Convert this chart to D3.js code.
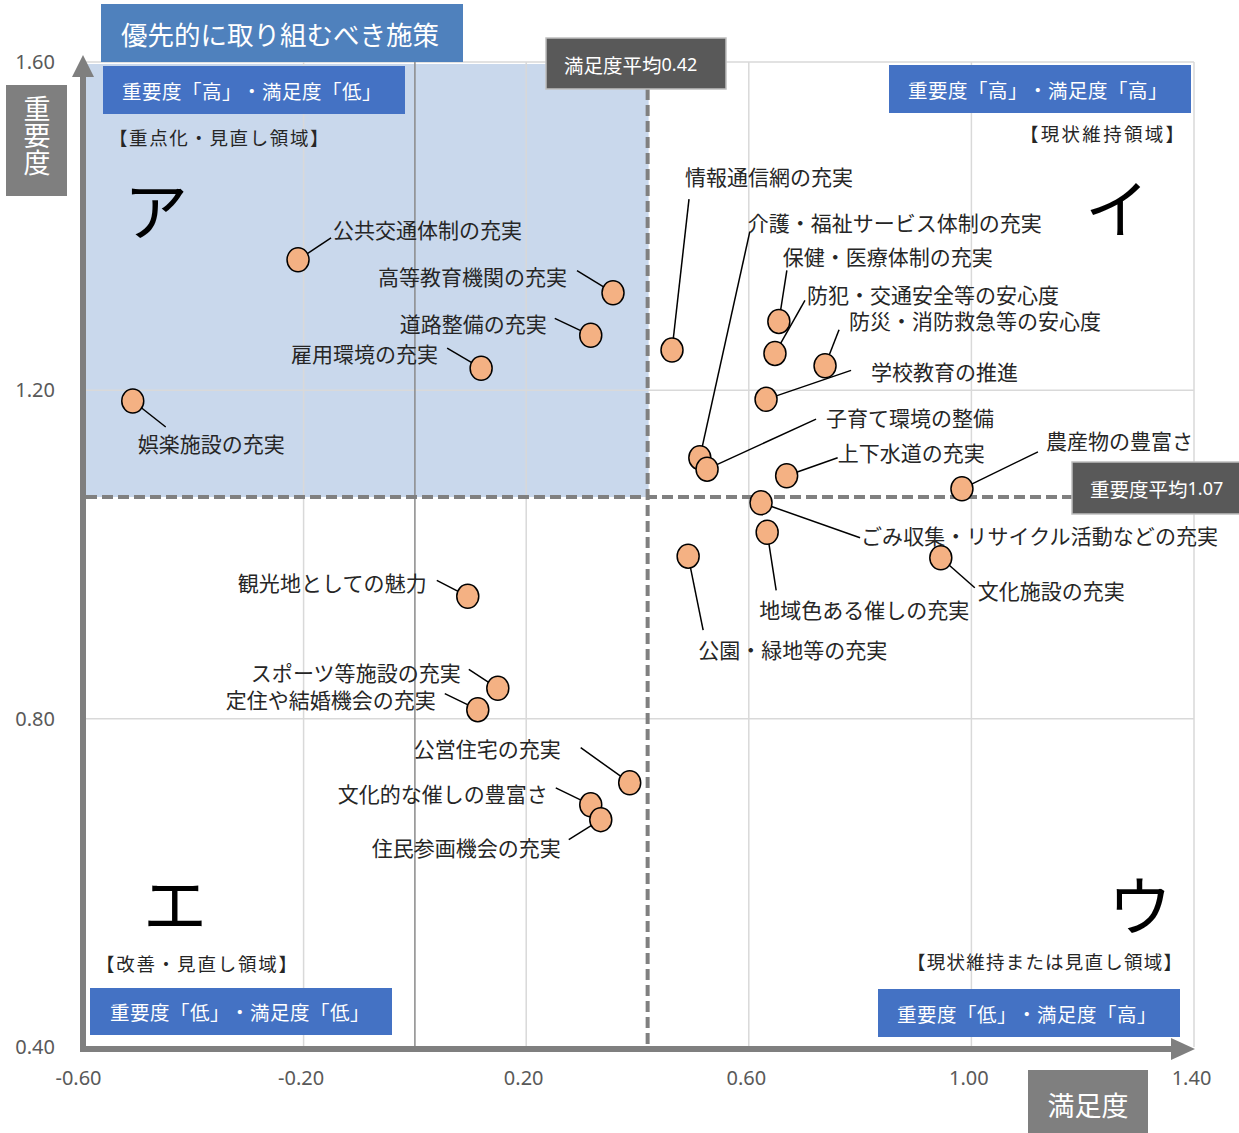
<!DOCTYPE html>
<html><head><meta charset="utf-8">
<script src="https://cdn.jsdelivr.net/npm/d3@7"></script>
<style>
html,body{margin:0;padding:0;background:#fff;}
svg{display:block;font-family:"Noto Sans CJK JP","Noto Sans",sans-serif;}
svg text{text-spacing-trim:space-all;font-feature-settings:"chws" 0,"halt" 0,"palt" 0;}
</style></head>
<body><svg id="chart" width="1239" height="1133"></svg>
<script>
// ---- data ----
const items = ["公共交通体制の充実","高等教育機関の充実","道路整備の充実","雇用環境の充実","娯楽施設の充実",
 "情報通信網の充実","介護・福祉サービス体制の充実","保健・医療体制の充実","防犯・交通安全等の安心度","防災・消防救急等の安心度",
 "学校教育の推進","子育て環境の整備","上下水道の充実","農産物の豊富さ","ごみ収集・リサイクル活動などの充実",
 "地域色ある催しの充実","文化施設の充実","公園・緑地等の充実","観光地としての魅力","スポーツ等施設の充実",
 "定住や結婚機会の充実","公営住宅の充実","文化的な催しの豊富さ","住民参画機会の充実"];
const satisfaction = [-0.210,0.356,0.316,0.119,-0.507, 0.462,0.512,0.654,0.647,0.737,
 0.631,0.525,0.668,0.983,0.622, 0.633,0.945,0.491,0.095,0.149, 0.113,0.386,0.316,0.334];
const importance = [1.359,1.319,1.267,1.227,1.187, 1.249,1.118,1.284,1.245,1.230,
 1.189,1.104,1.096,1.080,1.063, 1.027,0.996,0.998,0.949,0.837, 0.811,0.722,0.695,0.677];
const xTicks = [-0.6,-0.2,0.2,0.6,1.0,1.4];
const yTicks = [0.4,0.8,1.2,1.6];
const avgSatisfaction = 0.42;
const avgImportance = 1.07;
const xTitle = "満足度", yTitle = "重要度";
const mainTitle = "優先的に取り組むべき施策";

// ---- layout (label placement offsets from point, px) ----
// [text dx, text dy, anchor, leader dx, leader dy]
const labelLayout = [
 [35,-31,"start",33,-22],[-46,-17,"end",-36,-22],[-44,-12,"end",-36,-17],[-43,-15,"end",-34,-20],[5,42,"start",33,26],
 [13,-174,"start",17,-151],[48,-236,"start",50,-226],[4,-65,"start",8,-51],[32,-59,"start",30,-53],[24,-46,"start",14,-36],
 [105,-28,"start",85,-29],[119,-52,"start",109,-50],[51,-24,"start",51,-18],[84,-49,"start",76,-37],[100,32,"start",99,35],
 [-8,77,"start",9,58],[37,32,"start",34,30],[10,93,"start",15,74],[-41,-14,"end",-31,-16],[-37,-16,"end",-29,-19],
 [-42,-11,"end",-33,-16],[-69,-35,"end",-49,-35],[-43,-12,"end",-35,-17],[-40,27,"end",-32,20]
];

const svg = d3.select("#chart");
const x = d3.scaleLinear().domain([-0.6,1.4]).range([81,1194]);
const y = d3.scaleLinear().domain([0.4,1.6]).range([1047,62]);
const axisGray = "#7f7f7f";
// full-width text: force each glyph to one em
const fw = (sel, fs, extra=0) => sel.attr("textLength", d => (typeof d === "string" ? d : (d.name || d[0])).length * fs + extra)
  .attr("lengthAdjust","spacing");

// priority quadrant fill
svg.append("rect").attr("x", x(-0.6)+5).attr("y", y(1.6)+2)
  .attr("width", x(avgSatisfaction)-x(-0.6)-5).attr("height", y(avgImportance)-y(1.6)-2)
  .attr("fill","#c9d8ec");

// gridlines
const grid = svg.append("g");
grid.selectAll("line.v").data(xTicks.filter(d=>d>-0.6)).join("line")
  .attr("x1",d=>x(d)).attr("x2",d=>x(d)).attr("y1",y(1.6)).attr("y2",y(0.4))
  .attr("stroke","#d9d9d9").attr("stroke-width",1.5);
grid.selectAll("line.h").data(yTicks.filter(d=>d>0.4)).join("line")
  .attr("x1",x(-0.6)).attr("x2",x(1.4)).attr("y1",d=>y(d)).attr("y2",d=>y(d))
  .attr("stroke","#d9d9d9").attr("stroke-width",1.5);
// zero line
svg.append("line").attr("x1",x(0)).attr("x2",x(0)).attr("y1",y(1.6)).attr("y2",y(0.4))
  .attr("stroke","#8a8a8a").attr("stroke-width",1.5);

// average dashed lines
svg.append("line").attr("x1",x(avgSatisfaction)-1).attr("x2",x(avgSatisfaction)-1).attr("y1",89).attr("y2",y(0.4))
  .attr("stroke","#808080").attr("stroke-width",4).attr("stroke-dasharray","11,5");
svg.append("line").attr("x1",x(-0.6)+5).attr("x2",1072).attr("y1",y(avgImportance)).attr("y2",y(avgImportance))
  .attr("stroke","#808080").attr("stroke-width",4).attr("stroke-dasharray","11,5");

// axes with arrows
svg.append("line").attr("x1",x(-0.6)+2).attr("x2",x(-0.6)+2).attr("y1",y(0.4)+5).attr("y2",y(1.6)+14)
  .attr("stroke",axisGray).attr("stroke-width",6);
svg.append("path").attr("d",`M${x(-0.6)+2},${y(1.6)-7} L${x(-0.6)+13},${y(1.6)+15} L${x(-0.6)-9},${y(1.6)+15} Z`).attr("fill",axisGray);
svg.append("line").attr("x1",x(-0.6)-1).attr("x2",x(1.4)-22).attr("y1",y(0.4)+2).attr("y2",y(0.4)+2)
  .attr("stroke",axisGray).attr("stroke-width",6);
svg.append("path").attr("d",`M${x(1.4)+1},${y(0.4)+2} L${x(1.4)-23},${y(0.4)-9} L${x(1.4)-23},${y(0.4)+13} Z`).attr("fill",axisGray);

// tick labels via d3 axes
const fmt = d => d.toFixed(2);
const gx = svg.append("g").attr("transform",`translate(-3,${y(0.4)})`)
  .call(d3.axisBottom(x).tickValues(xTicks).tickSize(0).tickPadding(24).tickFormat(fmt));
const gy = svg.append("g").attr("transform",`translate(${x(-0.6)},0)`)
  .call(d3.axisLeft(y).tickValues(yTicks).tickSize(0).tickPadding(26).tickFormat(fmt));
[gx,gy].forEach(g=>{g.select(".domain").remove();
  g.selectAll("text").attr("fill","#595959").style("font-size","20px").style("font-family","'Noto Sans','Open Sans',sans-serif");});

// boxes helper
function box(x0,y0,w,h,fill,txt,fs,tx,opts={}){
  svg.append("rect").attr("x",x0).attr("y",y0).attr("width",w).attr("height",h).attr("fill",fill)
    .attr("stroke",opts.stroke||"none").attr("stroke-width",opts.sw||0);
  const t = svg.append("text").attr("x",tx).attr("y",y0+h/2).attr("dominant-baseline","central")
    .attr("fill","#fff").style("font-size",fs+"px");
  if (opts.parts){ opts.parts.forEach(p=>t.append("tspan").text(p[0]).style("font-size",p[1]+"px").style("font-family",p[2]||null)); }
  else { t.text(txt).attr("textLength", txt.length*fs + (opts.extra||0)).attr("lengthAdjust","spacing"); }
  return t;
}
box(101,4,362,58,"#4f81bd",mainTitle,26.5,121);
box(103,66,302,48,"#4472c4","重要度「高」・満足度「低」",19.5,122,{extra:6});
box(889,65,302,48,"#4472c4","重要度「高」・満足度「高」",19.5,908,{extra:6});
box(90,988,302,47,"#4472c4","重要度「低」・満足度「低」",19.5,110,{extra:6});
box(878,989,302,48,"#4472c4","重要度「低」・満足度「高」",19.5,897,{extra:6});
box(546,38,180,51,"#595959",null,19.5,564,{stroke:"#bfbfbf",sw:1.5,parts:[["満足度平均",19.5],["0.42",18,"'Noto Sans',sans-serif"]]});
box(1072,462,170,52,"#595959",null,19.5,1090,{stroke:"#bfbfbf",sw:1.5,parts:[["重要度平均",19.5],["1.07",18,"'Noto Sans',sans-serif"]]});

// axis title boxes
svg.append("rect").attr("x",6).attr("y",85).attr("width",61).attr("height",111).attr("fill",axisGray);
svg.append("text").attr("x",37).attr("y",95)
  .attr("writing-mode","vertical-rl").style("writing-mode","vertical-rl")
  .attr("fill","#fff").style("font-size","27px").text(yTitle);
svg.append("rect").attr("x",1028).attr("y",1070).attr("width",120).attr("height",63).attr("fill",axisGray);
svg.append("text").attr("x",1088).attr("y",1104).attr("text-anchor","middle").attr("dominant-baseline","central")
  .attr("fill","#fff").style("font-size","27px").text(xTitle);

// quadrant notes (bracket glyphs pushed outward to match the reference's ink extent)
const notes = [["【重点化・見直し領域】",109,137,"start"],["【現状維持領域】",1184,133,"end"],
  ["【改善・見直し領域】",96,963,"start"],["【現状維持または見直し領域】",1182,961,"end"]];
svg.append("g").selectAll("text").data(notes).join("text")
  .attr("x",d=>d[1]).attr("y",d=>d[2]).attr("text-anchor",d=>d[3]).attr("dominant-baseline","central")
  .attr("fill","#262626").style("font-size","18.5px").text(d=>d[0]).call(fw,18.5,16);
const kana = [["ア",156,207],["イ",1117,205],["エ",175,900],["ウ",1140,902]];
svg.append("g").selectAll("text").data(kana).join("text")
  .attr("x",d=>d[1]).attr("y",d=>d[2]).attr("text-anchor","middle").attr("dominant-baseline","central")
  .attr("fill","#000").style("font-size","64px").text(d=>d[0]);

// points
const pts = items.map((n,i)=>({name:n, sx:satisfaction[i], im:importance[i], L:labelLayout[i]}));
const pg = svg.append("g");
pg.selectAll("line").data(pts).join("line")
  .attr("x1",d=>x(d.sx)).attr("y1",d=>y(d.im))
  .attr("x2",d=>x(d.sx)+d.L[3]).attr("y2",d=>y(d.im)+d.L[4])
  .attr("stroke","#000").attr("stroke-width",1.5);
pg.selectAll("ellipse").data(pts).join("ellipse")
  .attr("cx",d=>x(d.sx)).attr("cy",d=>y(d.im)).attr("rx",11).attr("ry",12)
  .attr("fill","#f4b183").attr("stroke","#000").attr("stroke-width",1.5);
pg.selectAll("text").data(pts).join("text")
  .attr("x",d=>x(d.sx)+d.L[0]).attr("y",d=>y(d.im)+d.L[1])
  .attr("text-anchor",d=>d.L[2]).attr("dominant-baseline","central")
  .attr("fill","#262626").style("font-size","21px").text(d=>d.name).call(fw,21);
</script></body></html>
